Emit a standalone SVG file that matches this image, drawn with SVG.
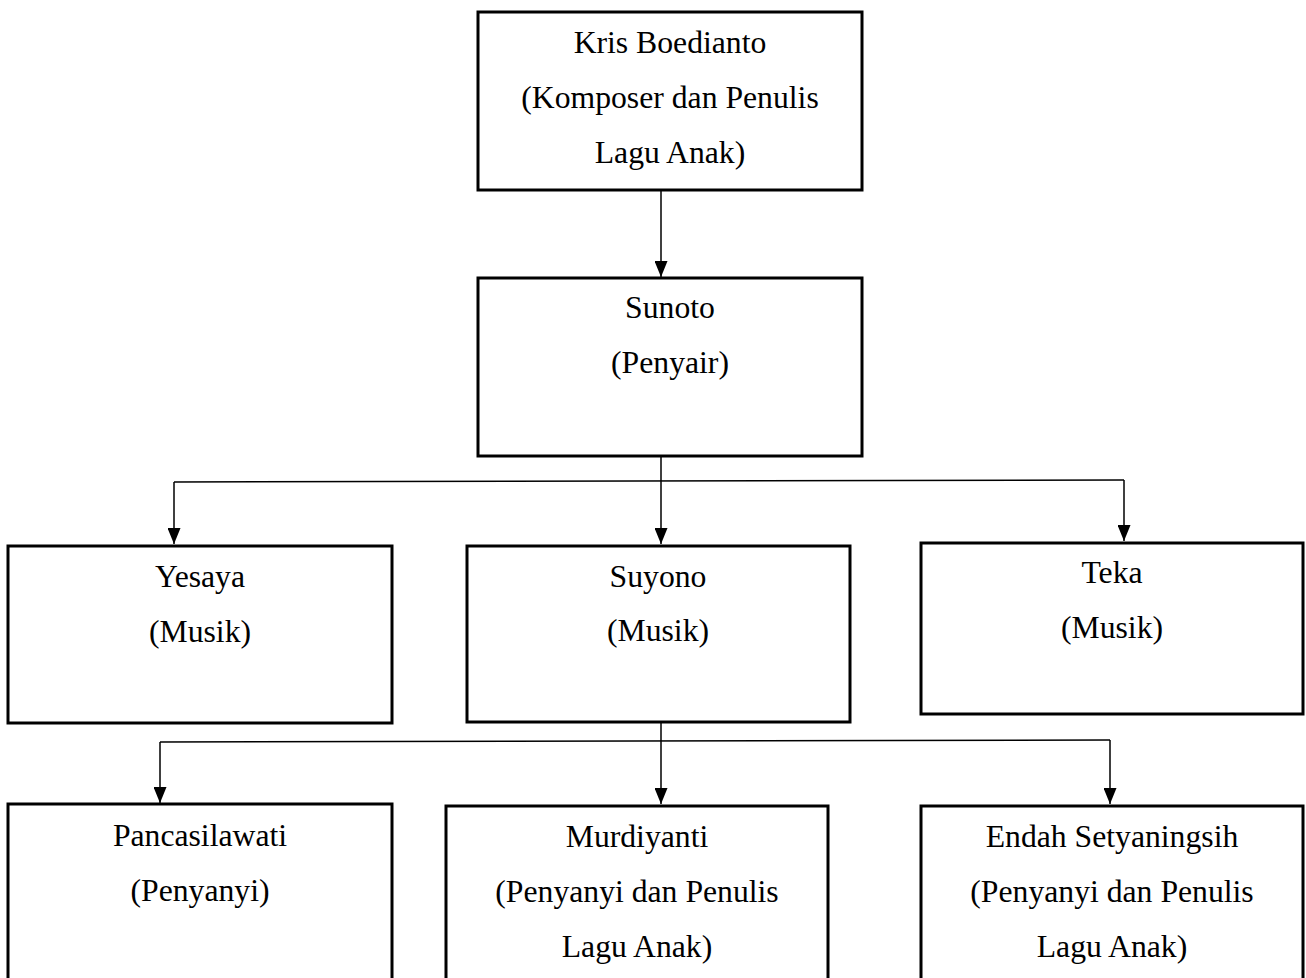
<svg xmlns="http://www.w3.org/2000/svg" width="1306" height="978" viewBox="0 0 1306 978">
<style>
  .box { fill: #ffffff; stroke: #000000; stroke-width: 3; }
  .lbl { font-family: "Liberation Serif", "Times New Roman", serif; font-size: 31.7px; fill: #000000; text-anchor: middle; }
  .conn { fill: none; stroke: #000000; stroke-width: 1.5; }
</style>
<defs>
  <marker id="arrow" viewBox="0 0 16 13" refX="16" refY="6.5" markerWidth="16" markerHeight="13" markerUnits="userSpaceOnUse" orient="auto">
    <path d="M0 0 L16 6.5 L0 13 Z" fill="#000000"/>
  </marker>
</defs>
<rect width="1306" height="978" fill="#ffffff"/>
<g id="connectors">
  <path class="conn" d="M661 190 V277" marker-end="url(#arrow)"/>
  <path class="conn" d="M661 456 V544" marker-end="url(#arrow)"/>
  <path class="conn" d="M174 482 L1124 480"/>
  <path class="conn" d="M174 482 V544" marker-end="url(#arrow)"/>
  <path class="conn" d="M1124 480 V541" marker-end="url(#arrow)"/>
  <path class="conn" d="M661 718 V804" marker-end="url(#arrow)"/>
  <path class="conn" d="M160 742 L1110 740"/>
  <path class="conn" d="M160 742 V803" marker-end="url(#arrow)"/>
  <path class="conn" d="M1110 740 V804" marker-end="url(#arrow)"/>
</g>
<g id="node-kris">
  <rect class="box" x="478" y="12" width="384" height="178"/>
  <text class="lbl" x="670" y="53">Kris Boedianto</text>
  <text class="lbl" x="670" y="108">(Komposer dan Penulis</text>
  <text class="lbl" x="670" y="163">Lagu Anak)</text>
</g>
<g id="node-sunoto">
  <rect class="box" x="478" y="278" width="384" height="178"/>
  <text class="lbl" x="670" y="318">Sunoto</text>
  <text class="lbl" x="670" y="373">(Penyair)</text>
</g>
<g id="node-yesaya">
  <rect class="box" x="8" y="546" width="384" height="177"/>
  <text class="lbl" x="200" y="587">Yesaya</text>
  <text class="lbl" x="200" y="642">(Musik)</text>
</g>
<g id="node-suyono">
  <rect class="box" x="467" y="546" width="383" height="176"/>
  <text class="lbl" x="658" y="587">Suyono</text>
  <text class="lbl" x="658" y="641">(Musik)</text>
</g>
<g id="node-teka">
  <rect class="box" x="921" y="543" width="382" height="171"/>
  <text class="lbl" x="1112" y="583">Teka</text>
  <text class="lbl" x="1112" y="638">(Musik)</text>
</g>
<g id="node-pancasilawati">
  <rect class="box" x="8" y="804" width="384" height="190"/>
  <text class="lbl" x="200" y="846">Pancasilawati</text>
  <text class="lbl" x="200" y="901">(Penyanyi)</text>
</g>
<g id="node-murdiyanti">
  <rect class="box" x="446" y="806" width="382" height="190"/>
  <text class="lbl" x="637" y="847">Murdiyanti</text>
  <text class="lbl" x="637" y="902">(Penyanyi dan Penulis</text>
  <text class="lbl" x="637" y="957">Lagu Anak)</text>
</g>
<g id="node-endah">
  <rect class="box" x="921" y="806" width="382" height="190"/>
  <text class="lbl" x="1112" y="847">Endah Setyaningsih</text>
  <text class="lbl" x="1112" y="902">(Penyanyi dan Penulis</text>
  <text class="lbl" x="1112" y="957">Lagu Anak)</text>
</g>
</svg>
